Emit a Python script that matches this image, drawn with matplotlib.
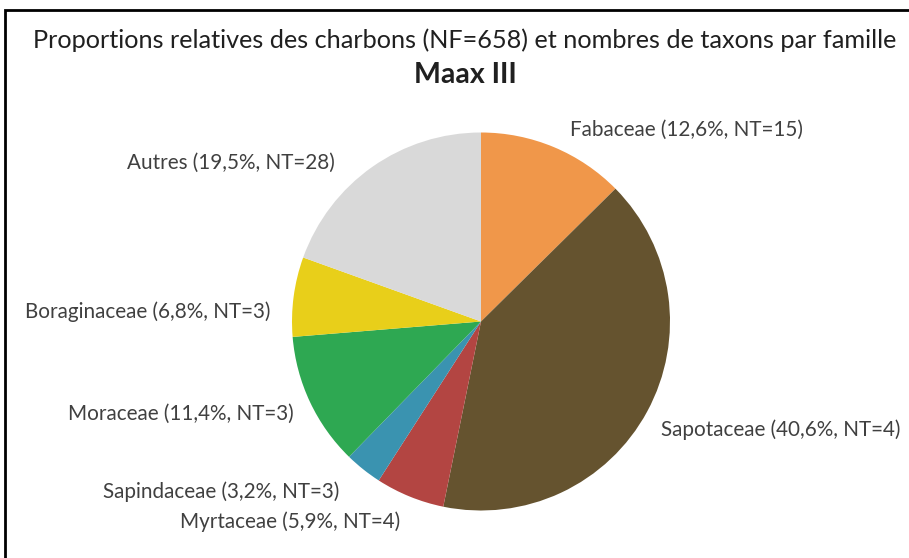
import matplotlib.pyplot as plt
from matplotlib.patches import Rectangle

W, H = 909, 558

families = ["Fabaceae", "Sapotaceae", "Myrtaceae", "Sapindaceae",
            "Moraceae", "Boraginaceae", "Autres"]
percent = [12.6, 40.6, 5.9, 3.2, 11.4, 6.8, 19.5]
n_taxa = [15, 4, 4, 3, 3, 3, 28]
colors = ["#F0974A", "#65532F", "#B34542", "#3A93B0",
          "#2EA852", "#E8CF1A", "#D9D9D9"]

# label anchor (pixel x, pixel y from top)
label_pos = [(570, 130), (661, 430), (180, 522), (103, 492),
             (68, 414), (25, 312), (127, 163)]

plt.rcParams['font.family'] = ['Lato', 'DejaVu Sans']
TXT = "#404040"


def fx(x):
    return x / W


def fy(y):
    return 1 - y / H


fig = plt.figure(figsize=(W / 100, H / 100), dpi=100)

# outer frame
fig.patches.append(Rectangle((fx(5), fy(H + 20)), 1.2, (H + 20 - 10) / H,
                             transform=fig.transFigure, fill=False,
                             edgecolor="black", linewidth=2))

cx, cy, r = 481, 321.5, 189
ax = fig.add_axes([fx(cx - r), fy(cy + r), 2 * r / W, 2 * r / H])
ax.pie(percent, colors=colors, startangle=90, counterclock=False,
       radius=1, wedgeprops=dict(linewidth=0))
ax.set_xlim(-1, 1)
ax.set_ylim(-1, 1)
ax.set_aspect("equal")
ax.axis("off")

for name, p, nt, (x, y) in zip(families, percent, n_taxa, label_pos):
    label = f"{name} ({p:.1f}%, NT={nt})".replace(".", ",")
    fig.text(fx(x), fy(y), label, ha="left", va="center", fontsize=14.9, color=TXT)

fig.text(fx(465), fy(40), "Proportions relatives des charbons (NF=658) et nombres de taxons par famille",
         ha="center", va="center", fontsize=18.2, color="#202020")
fig.text(fx(465), fy(75), "Maax III", ha="center", va="center",
         fontsize=20.5, fontweight="bold", color="#202020")

fig.savefig("out.png", dpi=100)
